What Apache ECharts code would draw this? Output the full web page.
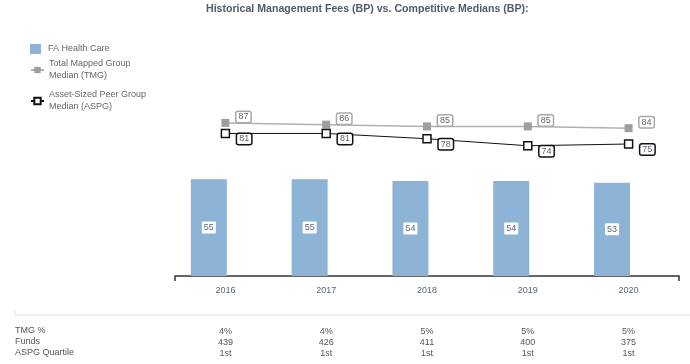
<!DOCTYPE html>
<html><head><meta charset="utf-8">
<script src="https://cdn.jsdelivr.net/npm/echarts@6/dist/echarts.min.js"></script>
<style>html,body{margin:0;padding:0;background:#fff}#c{width:690px;height:364px}</style>
</head><body><div id="c"></div>
<script>
var years = ['2016', '2017', '2018', '2019', '2020'];
var feeValues = [55, 55, 54, 54, 53];
var tmgValues = [87, 86, 85, 85, 84];
var aspgValues = [81, 81, 78, 74, 75];
var tmgPct = ['4%', '4%', '5%', '5%', '5%'];
var funds = ['439', '426', '411', '400', '375'];
var aspgQuartile = ['1st', '1st', '1st', '1st', '1st'];
var rowLabels = ['TMG %', 'Funds', 'ASPG Quartile'];
var seriesNames = ['FA Health Care', 'Total Mapped Group Median (TMG)', 'Asset-Sized Peer Group Median (ASPG)'];
var legendLabels = ['FA Health Care', 'Total Mapped Group\nMedian (TMG)', 'Asset-Sized Peer Group\nMedian (ASPG)'];

var FONT = '"Liberation Sans", Arial, sans-serif';
var txt = '#5a6672';
var chart = echarts.init(document.getElementById('c'));

function legendFmt(n) { return legendLabels[seriesNames.indexOf(n)]; }

var option = {
  animation: false,
  textStyle: { fontFamily: FONT },
  title: {
    text: 'Historical Management Fees (BP) vs. Competitive Medians (BP):',
    left: 206, top: 4, padding: 0,
    textStyle: { fontFamily: FONT, fontSize: 10.6, fontWeight: 'bold', color: '#4f5b66' }
  },
  legend: [
    { data: [{ name: seriesNames[0], icon: 'rect' }], orient: 'vertical', left: 30, top: 44, padding: 0,
      itemWidth: 11, itemHeight: 10, formatter: legendFmt,
      textStyle: { fontFamily: FONT, fontSize: 9, color: '#666', padding: [0, 0, 0, 2] } },
    { data: [seriesNames[1]], orient: 'vertical', left: 30, top: 52, padding: 0,
      itemWidth: 13, itemHeight: 8, formatter: legendFmt,
      textStyle: { fontFamily: FONT, fontSize: 9, color: '#666', lineHeight: 12, padding: [12, 0, 0, 0] } },
    { data: [seriesNames[2]], orient: 'vertical', left: 30, top: 83, padding: 0,
      itemWidth: 13, itemHeight: 8, formatter: legendFmt,
      textStyle: { fontFamily: FONT, fontSize: 9, color: '#666', lineHeight: 12, padding: [12, 0, 0, 0] } }
  ],
  grid: { left: 175, right: 11, top: 100, bottom: 88, containLabel: false },
  xAxis: [
    { type: 'category', data: years, boundaryGap: true,
      axisLine: { lineStyle: { color: '#333', width: 1.5 } },
      axisTick: { show: true, length: 5, interval: function (i) { return i === 0; }, lineStyle: { color: '#333', width: 1.5 } },
      axisLabel: { margin: 10, fontSize: 9, color: txt, fontFamily: FONT, interval: 0 } },
    { type: 'category', data: years, position: 'bottom', gridIndex: 0,
      axisLine: { show: false }, axisTick: { show: false },
      axisLabel: { margin: 50, fontSize: 9, color: '#555', fontFamily: FONT, lineHeight: 11, interval: 0,
        formatter: function (v, i) { return tmgPct[i] + '\n' + funds[i] + '\n' + aspgQuartile[i]; } } }
  ],
  yAxis: { type: 'value', min: 0, max: 100, show: false, splitLine: { show: false } },
  series: [
    { name: seriesNames[0], type: 'bar', data: feeValues, barWidth: 36, barGap: '-8%',
      itemStyle: { color: '#8db4d6' },
      label: { show: true, position: 'inside', fontSize: 9, color: txt, fontFamily: FONT,
        backgroundColor: '#fff', padding: [2, 2, 1, 2], borderRadius: 1 } },
    { name: '_spacer', type: 'bar', data: [], barWidth: 36, silent: true },
    { name: seriesNames[1], type: 'line', data: tmgValues, symbol: 'rect', symbolSize: 8,
      itemStyle: { color: '#9e9e9e' }, lineStyle: { color: '#b0b0b0', width: 1.5 },
      label: { show: true, position: 'right', distance: 7, offset: [0, -6], fontSize: 9, color: txt, fontFamily: FONT,
        backgroundColor: '#fff', borderColor: '#a8a8a8', borderWidth: 1.5, borderRadius: 1.5, padding: [1, 2, 0, 2] } },
    { name: seriesNames[2], type: 'line', data: aspgValues, symbol: 'rect', symbolSize: 8,
      itemStyle: { color: '#fff', borderColor: '#111', borderWidth: 1.5 }, lineStyle: { color: '#111', width: 1 },
      label: { show: true, position: 'right', distance: 7, offset: [0, 5.5], fontSize: 9, color: txt, fontFamily: FONT,
        backgroundColor: '#fff', borderColor: '#111', borderWidth: 1.5, borderRadius: 1.5, padding: [1, 2, 0, 2] } }
  ],
  graphic: [
    { type: 'line', shape: { x1: 15, y1: 315, x2: 690, y2: 315 }, style: { stroke: '#e0e0e0', lineWidth: 1 }, silent: true },
    { type: 'line', shape: { x1: 15, y1: 310, x2: 15, y2: 315 }, style: { stroke: '#e0e0e0', lineWidth: 1 }, silent: true },
    { type: 'text', left: 15, top: 326, style: { text: rowLabels[0], font: '9px ' + FONT, fill: '#555' } },
    { type: 'text', left: 15, top: 337, style: { text: rowLabels[1], font: '9px ' + FONT, fill: '#555' } },
    { type: 'text', left: 15, top: 348, style: { text: rowLabels[2], font: '9px ' + FONT, fill: '#555' } }
  ]
};
chart.setOption(option);
</script></body></html>
